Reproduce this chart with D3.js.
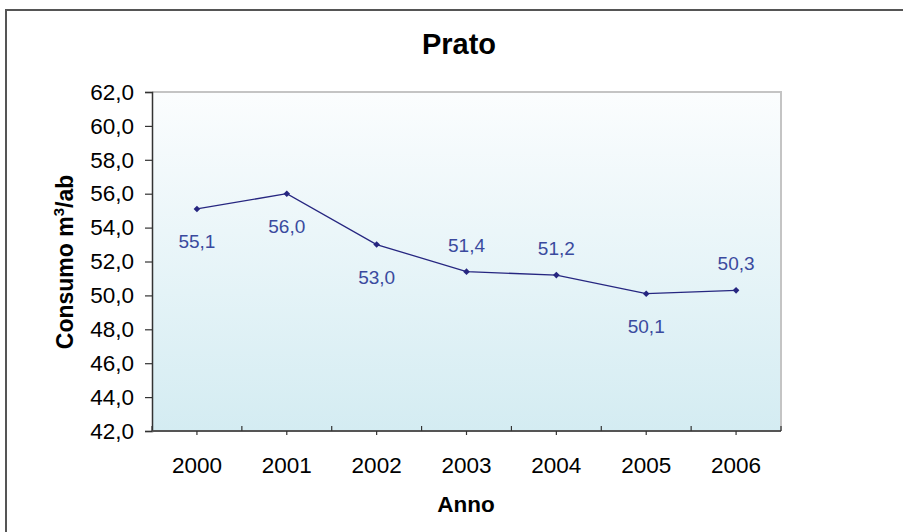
<!DOCTYPE html>
<html><head><meta charset="utf-8">
<script src="https://cdn.jsdelivr.net/npm/d3@7"></script>
<style>
html,body{margin:0;padding:0;background:#fff;}
svg{display:block;}
text{font-family:"Liberation Sans",Arial,sans-serif;}
</style></head>
<body>
<script>
const years = ["2000","2001","2002","2003","2004","2005","2006"];
const consumo = [55.1, 56.0, 53.0, 51.4, 51.2, 50.1, 50.3];
const yTicks = [42,44,46,48,50,52,54,56,58,60,62];
const labelSide = ["below","below","below","above","above","below","above"];

const W = 903, H = 532;
const m = {left:152, right:781, top:92, bottom:431};
const svg = d3.select("body").append("svg").attr("width",W).attr("height",H);

// outer frame
svg.append("path").attr("d",`M6,${H} L6,10 L${W},10`).attr("fill","none")
  .attr("stroke","#555").attr("stroke-width",2);

const defs = svg.append("defs");
const g = defs.append("linearGradient").attr("id","bg").attr("x1",0).attr("y1",0).attr("x2",0).attr("y2",1);
g.append("stop").attr("offset","0%").attr("stop-color","#fbfdfe");
g.append("stop").attr("offset","100%").attr("stop-color","#d4ecf2");

const x = d3.scaleBand().domain(years).range([m.left,m.right]).padding(0);
const y = d3.scaleLinear().domain([42,62]).range([m.bottom,m.top]);

// plot area
svg.append("rect").attr("x",m.left).attr("y",m.top).attr("width",m.right-m.left).attr("height",m.bottom-m.top)
  .attr("fill","url(#bg)");
svg.append("path").attr("d",`M${m.left},${m.top} L${m.right},${m.top} L${m.right},${m.bottom}`)
  .attr("fill","none").attr("stroke","#c4c4c4").attr("stroke-width",2);

// y axis
const yAxis = d3.axisLeft(y).tickValues(yTicks).tickSize(7).tickPadding(11)
  .tickFormat(d => d3.format(".1f")(d).replace(".", ","));
const ya = svg.append("g").attr("transform",`translate(${m.left},0)`).call(yAxis);
ya.select(".domain").attr("stroke","#333").attr("stroke-width",1.5);
ya.selectAll(".tick line").attr("stroke","#333").attr("stroke-width",1.2);
ya.selectAll(".tick text").attr("font-size",22.5).attr("fill","#000")
  .attr("font-family","'Liberation Sans',Arial,sans-serif");

// x axis
const xa = svg.append("g").attr("transform",`translate(0,${m.bottom})`);
xa.append("line").attr("x1",m.left).attr("x2",m.right).attr("y1",0).attr("y2",0)
  .attr("stroke","#555").attr("stroke-width",2);
const bounds = years.map(d => x(d)).concat([x(years[years.length-1]) + x.bandwidth()]);
xa.selectAll("line.maj").data(bounds).join("line").attr("class","maj")
  .attr("x1",d=>d).attr("x2",d=>d).attr("y1",-5).attr("y2",0).attr("stroke","#333").attr("stroke-width",1.2);
xa.selectAll("line.min").data(years).join("line").attr("class","min")
  .attr("x1",d=>x(d)+x.bandwidth()/2).attr("x2",d=>x(d)+x.bandwidth()/2).attr("y1",0).attr("y2",4)
  .attr("stroke","#333").attr("stroke-width",1.2);
xa.selectAll("text").data(years).join("text")
  .attr("x",d=>x(d)+x.bandwidth()/2).attr("y",42).attr("text-anchor","middle")
  .attr("font-size",22.5).attr("fill","#000").text(d=>d);

// line
const cx = d => x(d)+x.bandwidth()/2;
const pts = years.map((d,i)=>[cx(d), y(consumo[i])]);
svg.append("path").attr("d",d3.line()(pts)).attr("fill","none").attr("stroke","#262680").attr("stroke-width",1.3);
svg.selectAll("path.mk").data(pts).join("path").attr("class","mk")
  .attr("d",d3.symbol(d3.symbolSquare,22)).attr("transform",d=>`translate(${d[0]},${d[1]}) rotate(45)`)
  .attr("fill","#262680");

// data labels
svg.selectAll("text.lbl").data(years).join("text").attr("class","lbl")
  .attr("x",d=>cx(d)).attr("y",(d,i)=> y(consumo[i]) + (labelSide[i]==="below" ? 39 : -20))
  .attr("text-anchor","middle").attr("font-size",19).attr("fill","#3a4a9e")
  .text((d,i)=>d3.format(".1f")(consumo[i]).replace(".", ","));

// title
svg.append("text").attr("x",459).attr("y",54).attr("text-anchor","middle")
  .attr("font-size",29).attr("font-weight","bold").text("Prato");
// x title
svg.append("text").attr("x",466).attr("y",512).attr("text-anchor","middle")
  .attr("font-size",22.5).attr("font-weight","bold").text("Anno");
// y title
const yt = svg.append("text").attr("transform",`translate(73,262) rotate(-90)`).attr("text-anchor","middle")
  .attr("font-size",23).attr("font-weight","bold");
yt.append("tspan").text("Consumo m");
yt.append("tspan").attr("font-size",15).attr("dy",-9).text("3");
yt.append("tspan").attr("dy",9).text("/ab");
</script>
</body></html>
